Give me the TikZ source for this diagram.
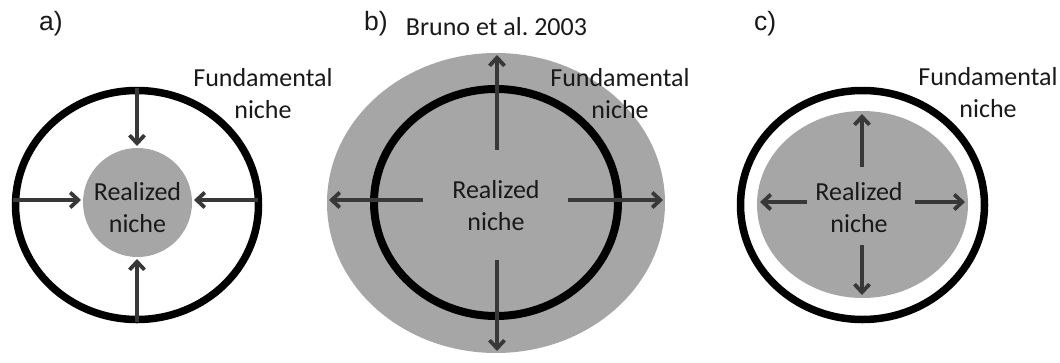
\documentclass[tikz,border=0pt]{standalone}
\usepackage{fontspec}
\setmainfont{Carlito}
\newfontfamily\arialf{Liberation Sans}
\usetikzlibrary{arrows.meta}
\definecolor{nichegray}{RGB}{166,166,166}
\definecolor{arrowgray}{RGB}{56,56,56}
\definecolor{txtcol}{RGB}{25,25,25}
\tikzset{
  txt/.style={font=\fontsize{26}{32}\selectfont, inner sep=0pt, align=center, anchor=base, text=txtcol},
  panellbl/.style={font=\arialf\fontsize{26.5}{30}\selectfont, inner sep=0pt, anchor=base west, text=txtcol},
  ring/.style={draw=black, line width=7.5pt},
  realized/.style={fill=nichegray},
  arr/.style={draw=arrowgray, line width=3.8pt, -{Straight Barb[length=8pt,width=15pt]}},
}
\begin{document}
\begin{tikzpicture}[x=1pt,y=-1pt]
\useasboundingbox (0,0) rectangle (1060,362);
% ---------- panel a ----------
\fill[realized] (137.5,202.5) ellipse [x radius=54.5, y radius=54.5];
\draw[ring] (137,205) ellipse [x radius=121.5, y radius=114.5];
\coordinate (aT) at (137,88);
\coordinate (aTe) at (137,146);
\coordinate (aB) at (137,322);
\coordinate (aBe) at (137,259);
\coordinate (aL) at (13,200);
\coordinate (aLe) at (81,200);
\coordinate (aR) at (258,200);
\coordinate (aRe) at (194,200);
\draw[arr] (aT) -- (aTe);
\draw[arr] (aB) -- (aBe);
\draw[arr] (aL) -- (aLe);
\draw[arr] (aR) -- (aRe);
\node[txt] (aReal) at (137.5,232.5) {Realized\\niche};
\node[txt] (aFund) at (263,118) {Fundamental\\niche};
\node[panellbl] (alab) at (39,30) {a)};
% ---------- panel b ----------
\fill[realized] (496,203) ellipse [x radius=169, y radius=150];
\draw[ring, line width=8pt] (496,202.5) ellipse [x radius=122, y radius=113.5];
\coordinate (bT) at (497,150);
\coordinate (bTe) at (497,55);
\coordinate (bB) at (497,260);
\coordinate (bBe) at (497,351);
\coordinate (bL) at (423,200);
\coordinate (bLe) at (329,200);
\coordinate (bR) at (568,200);
\coordinate (bRe) at (663,200);
\draw[arr] (bT) -- (bTe);
\draw[arr] (bB) -- (bBe);
\draw[arr] (bL) -- (bLe);
\draw[arr] (bR) -- (bRe);
\node[txt] (bReal) at (496,230.5) {Realized\\niche};
\node[txt] (bFund) at (620,118) {Fundamental\\niche};
\node[txt] (bruno) at (496.5,35) {Bruno et al.\ 2003};
\node[panellbl] (blab) at (364,30) {b)};
% ---------- panel c ----------
\fill[realized] (862.5,204.5) ellipse [x radius=105.5, y radius=93.5];
\draw[ring] (862.5,205) ellipse [x radius=122, y radius=114.5];
\coordinate (cT) at (862,167);
\coordinate (cTe) at (862,114);
\coordinate (cB) at (862,245);
\coordinate (cBe) at (862,295);
\coordinate (cL) at (807,202);
\coordinate (cLe) at (760,202);
\coordinate (cR) at (915,202);
\coordinate (cRe) at (965,202);
\draw[arr] (cT) -- (cTe);
\draw[arr] (cB) -- (cBe);
\draw[arr] (cL) -- (cLe);
\draw[arr] (cR) -- (cRe);
\node[txt] (cReal) at (859,232.5) {Realized\\niche};
\node[txt] (cFund) at (988,117) {Fundamental\\niche};
\node[panellbl] (clab) at (754,30) {c)};
\end{tikzpicture}
\end{document}
